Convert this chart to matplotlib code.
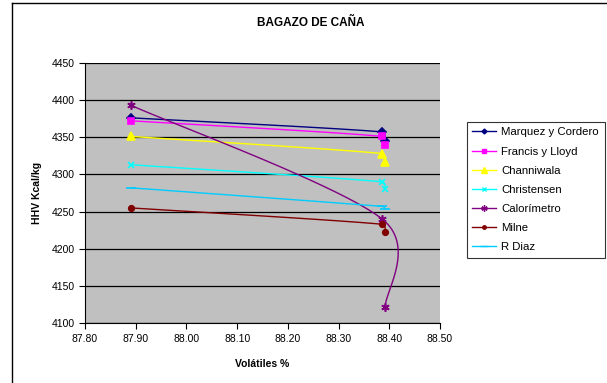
import numpy as np
import matplotlib
matplotlib.use("Agg")
import matplotlib.pyplot as plt
from matplotlib.lines import Line2D

plt.rcParams['font.family'] = ['Liberation Sans', 'DejaVu Sans']

volatiles = [87.89, 88.386, 88.392]
series_names = ['Marquez y Cordero', 'Francis y Lloyd', 'Channiwala', 'Christensen',
                'Calorímetro', 'Milne', 'R Diaz']
marquez = [4376, 4357, 4345]
francis = [4372, 4351, 4339]
channiwala = [4351, 4328, 4317]
christensen = [4313, 4290, 4280]
calorimetro = [4393, 4240, 4122]
milne = [4255, 4233, 4222]
rdiaz = [4282, 4257, 4254]
all_values = [marquez, francis, channiwala, christensen, calorimetro, milne, rdiaz]

colors = ['#000080', '#FF00FF', '#FFFF00', '#00FFFF', '#800080', '#800000', '#00CCFF']
markers = ['D', 's', '^', 'x', (6, 2, 0), 'o', '_']
msizes = [4, 5, 6, 5, 6, 4, 7]

xlim = (87.80, 88.50)
ylim = (4100, 4450)


def smooth(xs, ys, ax_w, ax_h, a=1 / 6, n=40):
    # Excel-like smoothed line: Bezier control arms (P[i+1]-P[i-1])/6,
    # each arm capped at half the segment length; done in screen units
    sx = ax_w / (xlim[1] - xlim[0])
    sy = ax_h / (ylim[1] - ylim[0])
    p = np.column_stack([np.asarray(xs) * sx, np.asarray(ys) * sy])
    pts = np.vstack([p[0], p, p[-1]])
    t = np.linspace(0, 1, n)[:, None]
    out = []
    for i in range(1, len(pts) - 2):
        p0, p3 = pts[i], pts[i + 1]
        seg_len = np.linalg.norm(p3 - p0)
        arm1 = a * (pts[i + 1] - pts[i - 1])
        arm2 = a * (pts[i + 2] - pts[i])
        for arm in (arm1, arm2):
            L = np.linalg.norm(arm)
            if L > seg_len / 2:
                arm *= (seg_len / 2) / L
        c1 = p0 + arm1
        c2 = p3 - arm2
        seg = (1 - t) ** 3 * p0 + 3 * (1 - t) ** 2 * t * c1 + 3 * (1 - t) * t ** 2 * c2 + t ** 3 * p3
        out.append(seg)
    out = np.vstack(out)
    return out[:, 0] / sx, out[:, 1] / sy


W, H = 607, 383
fig = plt.figure(figsize=(W / 100, H / 100), dpi=100)
ax = fig.add_axes([85 / W, 1 - 323.3 / H, 355 / W, 260.6 / H])
ax.set_facecolor('#C0C0C0')
ax.set_xlim(*xlim)
ax.set_ylim(*ylim)
xt = np.arange(87.80, 88.501, 0.10)
ax.set_xticks(xt)
ax.set_xticklabels([f'{v:.2f}' for v in xt])
ax.set_yticks(np.arange(4100, 4451, 50))
ax.yaxis.grid(True, color='black', linewidth=0.9)
ax.set_axisbelow(True)
for s in ['top', 'right']:
    ax.spines[s].set_visible(False)
for s in ['left', 'bottom']:
    ax.spines[s].set_color('black')
    ax.spines[s].set_linewidth(0.8)
ax.tick_params(labelsize=7.5, length=4, direction='out', color='black', width=0.8)

handles = []
for name, vals, c, m, ms in zip(series_names, all_values, colors, markers, msizes):
    sxs, sys_ = smooth(volatiles, vals, 355, 260.6)
    ax.plot(sxs, sys_, color=c, linewidth=1.0, zorder=3)
    ax.plot(volatiles, vals, linestyle='none', marker=m, color=c, markersize=ms,
            markeredgewidth=1.2, zorder=4)
    handles.append(Line2D([], [], color=c, linewidth=1.0, marker=m, markersize=ms - 1.5,
                          markeredgewidth=1.0, label=name))

ax.set_xlabel('Volátiles %', fontsize=7.5, fontweight='bold', labelpad=11)
ax.set_ylabel('HHV Kcal/kg', fontsize=7.5, fontweight='bold', labelpad=7)
fig.text(311 / W, 1 - 23 / H, 'BAGAZO DE CAÑA', fontsize=8.5, fontweight='bold',
         ha='center', va='center')

leg = fig.legend(handles=handles, loc='upper left',
                 bbox_to_anchor=(466.7 / W, 1 - 121.7 / H),
                 fontsize=8.2, frameon=True, fancybox=False, edgecolor='black',
                 borderaxespad=0, handlelength=2.1, labelspacing=0.8,
                 borderpad=0.5, handletextpad=0.45)
leg.get_frame().set_linewidth(0.8)

# chart-area border (top and left edges visible in the reference)
fig.add_artist(Line2D([12.5 / W, 12.5 / W], [0, 1 - 3 / H], color='black', linewidth=1.0))
fig.add_artist(Line2D([12.5 / W, 1], [1 - 3 / H, 1 - 3 / H], color='black', linewidth=1.0))

fig.savefig('out.png', dpi=100)
